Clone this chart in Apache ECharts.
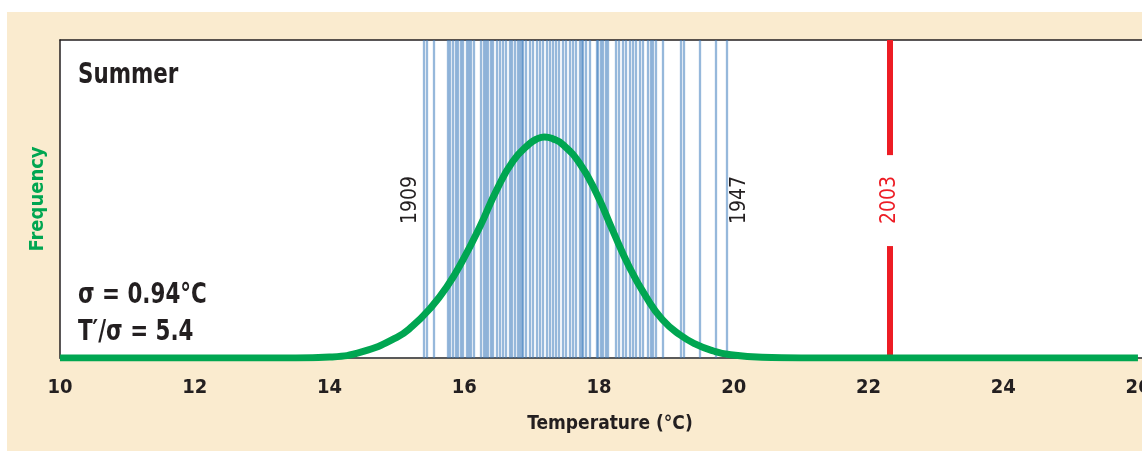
<!DOCTYPE html>
<html>
<head>
<meta charset="utf-8">
<style>
  html, body { margin: 0; padding: 0; background: #fff; }
  #chart { width: 1142px; height: 451px; }
</style>
<script src="https://cdn.jsdelivr.net/npm/echarts@6/dist/echarts.min.js"></script>
</head>
<body>
<div id="chart"></div>
<script>
// fitted normal curve (arbitrary frequency units)
var curveTemps = [10, 13.5, 14.0, 14.49, 15.0, 15.23, 15.49, 15.74, 15.98, 16.23, 16.48, 16.72, 16.97, 17.08,
  17.19, 17.32, 17.46, 17.71, 17.96, 18.2, 18.45, 18.7, 18.94, 19.2, 19.45, 19.7, 19.93, 20.42, 21, 26];
var curveFreq = [0, 0, 0.003, 0.02, 0.065, 0.1, 0.155, 0.223, 0.308, 0.412, 0.528, 0.618, 0.674, 0.689,
  0.695, 0.689, 0.672, 0.613, 0.519, 0.403, 0.286, 0.192, 0.121, 0.073, 0.042, 0.022, 0.011, 0.002, 0, 0];

// summer mean temperatures of the single years (blue bars)
var yearTemps = [15.40, 15.44, 15.55, 15.76, 15.79, 15.83, 15.87, 15.91, 15.95, 15.98, 16.03, 16.07, 16.10,
  16.14, 16.25, 16.29, 16.32, 16.35, 16.39, 16.43, 16.48, 16.52, 16.57, 16.62, 16.67, 16.71, 16.75,
  16.79, 16.82, 16.85, 16.87, 16.92, 16.97, 17.02, 17.07, 17.12, 17.17, 17.22, 17.27, 17.31, 17.36,
  17.41, 17.46, 17.51, 17.56, 17.61, 17.66, 17.71, 17.74, 17.76, 17.81, 17.86, 17.96, 17.98, 18.02,
  18.06, 18.10, 18.13, 18.25, 18.30, 18.35, 18.40, 18.45, 18.50, 18.55, 18.60, 18.65, 18.72, 18.77,
  18.80, 18.85, 18.94, 19.22, 19.26, 19.49, 19.73, 19.89];

var labelYears = ['1909', '1947'];
var labelTemps = [15.40, 19.89];

var hotYear = '2003';
var hotTemp = 22.31;

var xTicks = [10, 12, 14, 16, 18, 20, 22, 24, 26];

var FONT = "'DejaVu Sans Condensed', 'DejaVu Sans', sans-serif";
var INK = '#231f20';
var GREEN = '#00a651';
var RED = '#ed1c24';

var chart = echarts.init(document.getElementById('chart'));

function note(txt, x, y) {
  return {
    type: 'text', x: x, y: y, z: 10, scaleX: 0.82,
    style: { text: txt, font: 'bold 29px ' + FONT, fill: INK }
  };
}

chart.setOption({
  backgroundColor: '#fff',
  animation: false,
  textStyle: { fontFamily: FONT },
  graphic: [
    {
      type: 'rect', z: -10, silent: true,
      shape: { x: 7, y: 12, width: 1135, height: 439 },
      style: { fill: '#faebcf' }
    },
    note('Summer', 78, 61),
    note('σ = 0.94°C', 78, 281),
    note('T′/σ = 5.4', 78, 318)
  ],
  grid: {
    left: 60, right: 0, top: 40, bottom: 93,
    outerBoundsMode: 'none',
    show: true, backgroundColor: '#fff', borderWidth: 0
  },
  xAxis: [
    {
      type: 'value', min: 10, max: 26.06, interval: 2,
      name: 'Temperature (°C)', nameLocation: 'middle', nameGap: 57,
      nameTextStyle: { fontFamily: FONT, fontSize: 19, fontWeight: 'bold', color: INK, padding: [0, 0, 0, 18] },
      axisLine: { show: true, lineStyle: { color: '#5a5a5a', width: 2 } },
      axisTick: { show: false },
      splitLine: { show: false },
      axisLabel: {
        margin: 20, fontFamily: FONT, fontSize: 20, fontWeight: 'bold', color: INK,
        showMaxLabel: true, showMinLabel: true,
        formatter: function (v) { return xTicks.indexOf(v) >= 0 ? String(v) : ''; }
      }
    },
    {
      type: 'value', min: 10, max: 26.06, position: 'top',
      axisLine: { show: true, onZero: false, lineStyle: { color: INK, width: 1.5 } },
      axisTick: { show: false }, axisLabel: { show: false }, splitLine: { show: false }
    }
  ],
  yAxis: {
    type: 'value', min: 0, max: 1,
    name: 'Frequency', nameLocation: 'middle', nameGap: 12,
    nameTextStyle: { fontFamily: FONT, fontSize: 20, fontWeight: 'bold', color: GREEN },
    axisLine: { show: true, lineStyle: { color: INK, width: 1.5 } },
    axisTick: { show: false }, axisLabel: { show: false }, splitLine: { show: false }
  },
  series: [
    {
      name: 'years',
      type: 'line',
      data: [],
      silent: true,
      markLine: {
        silent: true, symbol: 'none', animation: false,
        label: { show: false },
        lineStyle: { color: '#3f7dbd', width: 2.3, type: 'solid', opacity: 0.55 },
        data: yearTemps.map(function (t) { return { xAxis: t }; })
      },
      markPoint: {
        symbol: 'circle', symbolSize: 1, silent: true,
        itemStyle: { color: 'rgba(0,0,0,0)' },
        label: {
          show: true, position: 'inside', rotate: 90, fontFamily: FONT, fontSize: 21,
          fontWeight: 'normal', color: INK, formatter: '{b}'
        },
        data: labelYears.map(function (y, i) {
          return { name: y, coord: [labelTemps[i], 0.497], label: { offset: [0, i === 0 ? -13 : 13] } };
        })
      }
    },
    {
      name: 'hot',
      type: 'line',
      data: [],
      silent: true,
      markLine: {
        silent: true, symbol: 'none', animation: false,
        label: { show: false },
        lineStyle: { color: RED, width: 6, type: 'solid', opacity: 1 },
        data: [
          [{ coord: [hotTemp, 0] }, { coord: [hotTemp, 0.352] }],
          [{ coord: [hotTemp, 0.638] }, { coord: [hotTemp, 1] }]
        ]
      },
      markPoint: {
        symbol: 'circle', symbolSize: 1, silent: true,
        itemStyle: { color: 'rgba(0,0,0,0)' },
        label: {
          show: true, position: 'inside', rotate: 90, fontFamily: FONT, fontSize: 21,
          fontWeight: 'normal', color: RED, formatter: '{b}'
        },
        data: [{ name: hotYear, coord: [hotTemp, 0.497] }]
      }
    },
    {
      name: 'normal',
      type: 'line',
      smooth: true,
      showSymbol: false,
      z: 5,
      lineStyle: { color: GREEN, width: 7 },
      data: curveTemps.map(function (t, i) { return [t, curveFreq[i]]; })
    }
  ]
});
</script>
</body>
</html>
